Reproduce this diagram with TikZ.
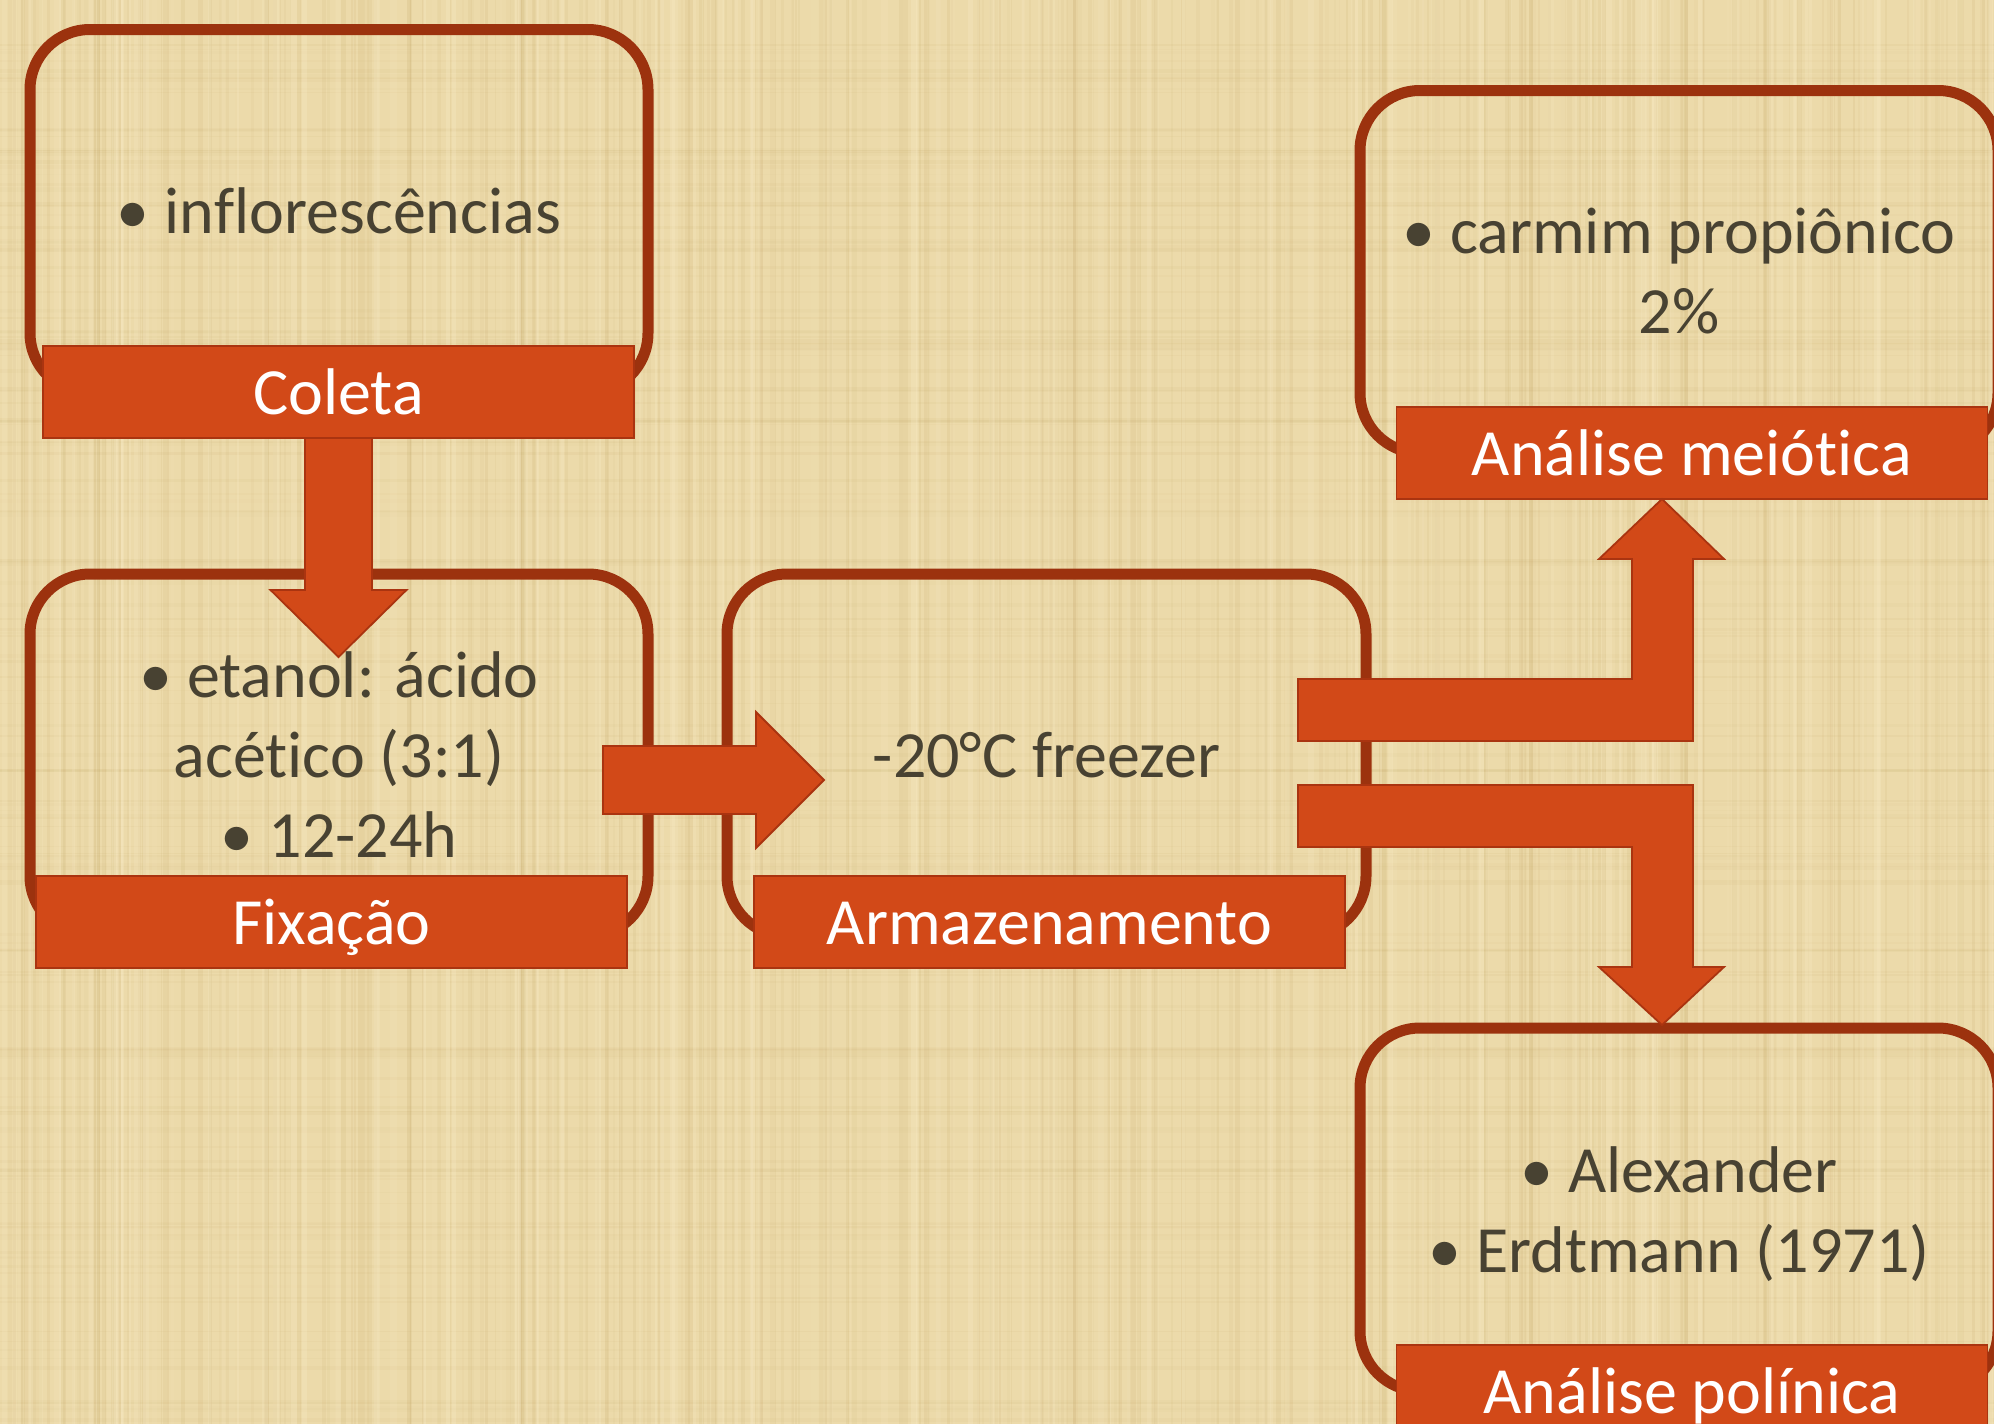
\documentclass[tikz,border=0pt]{standalone}
\usepackage{fontspec}
\setmainfont{Carlito}[RawFeature={-liga;-calt;-clig}]
\usetikzlibrary{calc}
\definecolor{bgtan}{RGB}{236,218,170}
\definecolor{texdark}{RGB}{190,160,92}
\definecolor{texlight}{RGB}{252,240,206}
\definecolor{rust}{RGB}{156,50,14}
\definecolor{flame}{RGB}{210,73,24}
\definecolor{flameedge}{RGB}{170,52,16}
\definecolor{ink}{RGB}{72,66,50}
\begin{document}
\begin{tikzpicture}[x=0.5pt,y=-0.5pt,
  stagebox/.style={draw=rust, line width=5.5pt, rounded corners=30pt, inner sep=0pt, outer sep=0pt},
  tag/.style={fill=flame, draw=flameedge, line width=0.9pt, text=white, inner sep=0pt, outer sep=0pt,
    minimum width=295.5pt, text height=34pt, text depth=12pt, font=\fontsize{33}{40}\selectfont},
  body/.style={text=ink, inner sep=0pt, anchor=base, font=\fontsize{33}{40}\selectfont},
  blockarrow/.style={fill=flame, draw=flameedge, line width=0.9pt, line join=miter}]
\useasboundingbox (0,0) rectangle (1994,1424);
\begin{scope}
\clip (0,0) rectangle (1994,1424);
% background texture
\fill[bgtan] (0,0) rectangle (1994,1424);
\pgfmathsetseed{12}
\foreach \k in {1,...,300}{
  \pgfmathsetmacro{\px}{1994*rnd}
  \pgfmathsetmacro{\pw}{1+4*rnd}
  \pgfmathsetmacro{\po}{0.03+0.10*rnd}
  \fill[texdark, opacity=\po] (\px,0) rectangle ++(\pw,1424);
}
\foreach \k in {1,...,160}{
  \pgfmathsetmacro{\py}{1424*rnd}
  \pgfmathsetmacro{\pw}{1+3*rnd}
  \pgfmathsetmacro{\po}{0.02+0.06*rnd}
  \fill[texdark, opacity=\po] (0,\py) rectangle ++(1994,\pw);
}
\foreach \k in {1,...,160}{
  \pgfmathsetmacro{\px}{1994*rnd}
  \pgfmathsetmacro{\pw}{1+6*rnd}
  \pgfmathsetmacro{\po}{0.05+0.2*rnd}
  \fill[texlight, opacity=\po] (\px,0) rectangle ++(\pw,1424);
}

% stage boxes
\node[stagebox, minimum width=309pt, minimum height=181.75pt] (coletaBox) at (339,211.25) {};
\node[stagebox, minimum width=309pt, minimum height=181pt] (fixBox) at (339,755) {};
\node[stagebox, minimum width=319.5pt, minimum height=181pt] (armBox) at (1046.5,755) {};
\node[stagebox, minimum width=319pt, minimum height=181.25pt] (meioBox) at (1679,271.75) {};
\node[stagebox, minimum width=319pt, minimum height=181.5pt] (poliBox) at (1679,1209.5) {};

% title tags
\node[tag, anchor=north] (coletaLbl) at (338.5,346) {Coleta};
\node[tag, anchor=north] (fixLbl) at (331.5,876) {Fixação};
\node[tag, anchor=north] (armLbl) at (1049.5,876) {Armazenamento};
\node[tag, anchor=north] (meioLbl) at (1692,407) {Análise meiótica};
\node[tag, anchor=north] (poliLbl) at (1692,1345) {Análise polínica};

% block arrows
\path[blockarrow] ($(coletaLbl.south)+(-33.5,0)$) -- ++(0,152) -- ++(-34.5,0) -- ++(68,67)
  -- ++(68,-67) -- ++(-34.5,0) -- ++(0,-152) -- cycle;
\coordinate (fixOut) at ($(fixBox.east)+(-45,25)$);
\path[blockarrow] (fixOut) ++(0,-34) -- ++(153,0) -- ++(0,-34) -- ++(68,68) -- ++(-68,68)
  -- ++(0,-34) -- ++(-153,0) -- cycle;
\coordinate (armUp) at ($(armBox.east)+(-68,-76)$);
\path[blockarrow] (armUp) -- ++(334,0) -- ++(0,-120) -- ++(-33,0) -- ++(63,-60) -- ++(62,60)
  -- ++(-31,0) -- ++(0,182) -- ++(-395,0) -- cycle;
\coordinate (armDown) at ($(armBox.east)+(-68,30)$);
\path[blockarrow] (armDown) -- ++(395,0) -- ++(0,182) -- ++(31,0) -- ++(-62,58) -- ++(-63,-58)
  -- ++(33,0) -- ++(0,-120) -- ++(-334,0) -- cycle;

% body texts
\node[body] (coletaT) at (339,233) {• inflorescências};
\node[body] (fixTa) at (339,697) {• etanol: ácido};
\node[body] (fixTb) at (339,777) {acético (3:1)};
\node[body] (fixTc) at (339,857) {• 12-24h};
\node[body] (armT) at (1046.5,777) {-20°C freezer};
\node[body] (meioTa) at (1679,253) {• carmim propiônico};
\node[body] (meioTb) at (1679,333) {2\%};
\node[body] (poliTa) at (1679,1192) {• Alexander};
\node[body] (poliTb) at (1679,1272) {• Erdtmann (1971)};
\end{scope}
\end{tikzpicture}
\end{document}
